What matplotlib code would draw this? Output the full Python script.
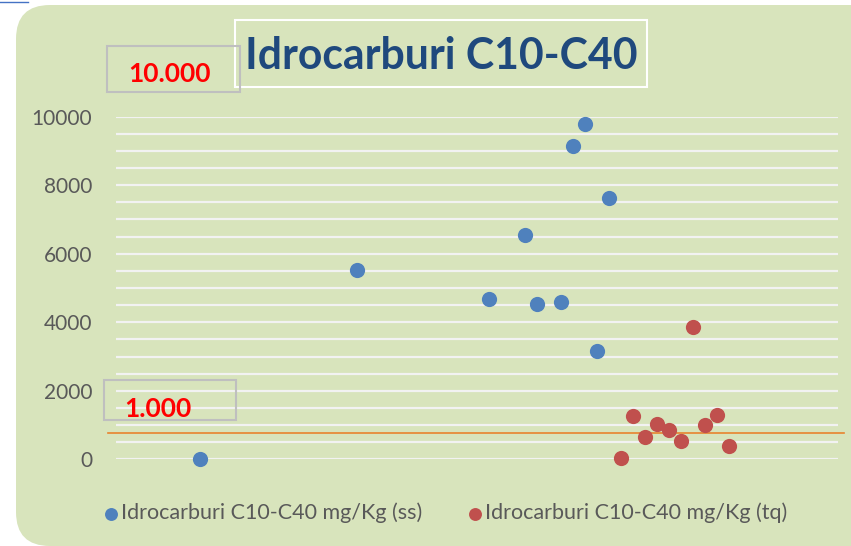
import numpy as np
import matplotlib
matplotlib.use("Agg")
import matplotlib.pyplot as plt
from matplotlib.patches import FancyBboxPatch, Rectangle
from matplotlib.transforms import IdentityTransform

# data (x = sample index, y = mg/Kg)
ss_x = [7, 20, 31, 34, 35, 37, 38, 39, 40, 41]
ss_y = [10, 5525, 4670, 6540, 4540, 4590, 9150, 9780, 3170, 7640]
tq_x = [42, 43, 44, 45, 46, 47, 48, 49, 50, 51]
tq_y = [45, 1265, 660, 1020, 845, 535, 3870, 990, 1300, 400]
soglia = 760  # reference line drawn on the chart

title = "Idrocarburi C10-C40"
label_ss = "Idrocarburi C10-C40 mg/Kg (ss)"
label_tq = "Idrocarburi C10-C40 mg/Kg (tq)"

W, H = 851, 546
plt.rcParams['font.family'] = ['Lato', 'DejaVu Sans']

fig = plt.figure(figsize=(W / 100, H / 100), dpi=100)
fig.patch.set_facecolor('white')

def fx(px):
    return px / W

def fy(py):
    return 1 - py / H

# green rounded card, in pixel units (origin bottom-left)
card = FancyBboxPatch((16, 0), 900, H - 5,
                      boxstyle="round,pad=0,rounding_size=34",
                      transform=IdentityTransform(), facecolor='#D8E4BC',
                      edgecolor='none', zorder=-10)
fig.add_artist(card)
fig.add_artist(plt.Line2D([0, fx(28)], [fy(2), fy(2)], color='#4472C4', lw=1,
                          transform=fig.transFigure))

ax = fig.add_axes([fx(116), fy(459.3), fx(837.5 - 116), (459.3 - 116.7) / H])
ax.set_facecolor('none')
ax.set_xlim(0, 60)
ax.set_ylim(0, 10000)
ax.set_yticks(np.arange(0, 10001, 2000))
ax.set_yticks(np.arange(0, 10001, 500), minor=True)
ax.grid(True, which='both', axis='y', color='#F2F2F2', lw=1.6, zorder=1)
ax.set_xticks([])
for s in ax.spines.values():
    s.set_visible(False)
ax.tick_params(axis='y', which='both', length=0, pad=17, labelsize=15,
               labelcolor='#595959')

ax.scatter(ss_x, ss_y, s=120, color='#4F81BD', zorder=3, clip_on=False,
           label=label_ss, linewidths=0)
ax.scatter(tq_x, tq_y, s=120, color='#C0504D', zorder=3, clip_on=False,
           label=label_tq, linewidths=0)

# threshold line, a bit wider than the grid
ax.plot([-0.7, 60.5], [soglia, soglia], color='#E8832E', lw=1.2,
        zorder=2, clip_on=False)

leg = ax.legend(loc='center', bbox_to_anchor=(0.455, -(513 - 459.3) / (459.3 - 116.7)),
                ncol=2, frameon=False, fontsize=15.5, handletextpad=0.0,
                columnspacing=2.0, markerscale=0.85, handlelength=0.9)
for t in leg.get_texts():
    t.set_color('#595959')

# title box
fig.add_artist(Rectangle((fx(235), fy(87)), fx(647 - 235), (87 - 20) / H,
                         transform=fig.transFigure, facecolor='none',
                         edgecolor='white', lw=1.5))
fig.text(fx(441), fy(56), title, ha='center', va='center', fontsize=30.8,
         fontweight='bold', color='#1F497D')

# value boxes
fig.add_artist(Rectangle((fx(107), fy(92)), fx(240 - 107), (92 - 46) / H,
                         transform=fig.transFigure, facecolor='none',
                         edgecolor='#BFBFBF', lw=1.5))
fig.text(fx(169), fy(74), "10.000", ha='center', va='center', fontsize=19,
         fontweight='bold', color='#FF0000')
fig.add_artist(Rectangle((fx(104), fy(420)), fx(236 - 104), (420 - 380) / H,
                         transform=fig.transFigure, facecolor='none',
                         edgecolor='#BFBFBF', lw=1.5))
fig.text(fx(124), fy(409), "1.000", ha='left', va='center', fontsize=19,
         fontweight='bold', color='#FF0000')

fig.savefig('out.png', dpi=100, facecolor=fig.get_facecolor())
